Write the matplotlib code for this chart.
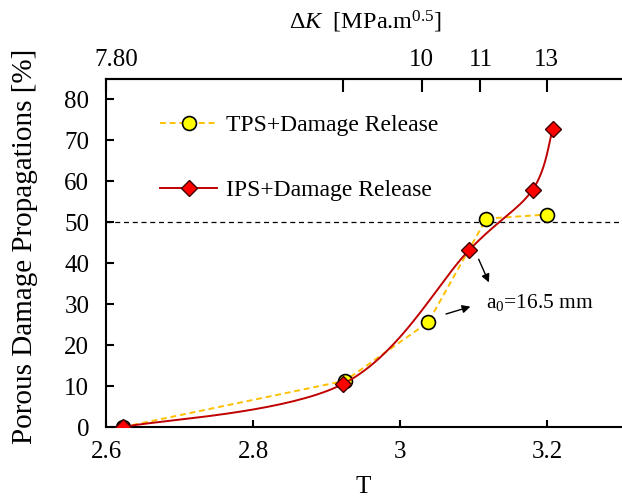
import numpy as np
import matplotlib
matplotlib.use("Agg")
import matplotlib.pyplot as plt
import matplotlib.transforms as mtransforms

plt.rcParams['font.family'] = ['Liberation Serif', 'DejaVu Serif']
plt.rcParams['mathtext.fontset'] = 'custom'
plt.rcParams['mathtext.rm'] = 'Liberation Serif'
plt.rcParams['mathtext.it'] = 'Liberation Serif:italic'

# data
tps_x = [2.623, 2.925, 3.038, 3.117, 3.200]
tps_y = [0.0, 11.3, 25.6, 50.9, 51.9]
ips_x = [2.623, 2.922, 3.094, 3.180, 3.207]
ips_y = [0.0, 10.5, 43.3, 58.0, 72.7]
threshold = 50

x_ticks = [2.6, 2.8, 3.0, 3.2]
x_labels = ['2.6', '2.8', '3', '3.2']
y_ticks = [0, 10, 20, 30, 40, 50, 60, 70, 80]
dk_ticks = [2.6, 2.922, 3.029, 3.109, 3.199]
dk_labels = ['7.80', '', '10', '11', '13']

W, H = 622, 498


def smooth_line(ax, xs, ys, n=40):
    # Excel-like smoothed line (Catmull-Rom / Bezier) computed in display space
    pts = ax.transData.transform(np.column_stack([xs, ys]))
    pts = np.vstack([pts[0], pts, pts[-1]])
    out = []
    t = np.linspace(0, 1, n)[:, None]
    for i in range(1, len(pts) - 2):
        p0, p1, p2, p3 = pts[i - 1], pts[i], pts[i + 1], pts[i + 2]
        c1 = p1 + (p2 - p0) / 6
        c2 = p2 - (p3 - p1) / 6
        seg = ((1 - t) ** 3 * p1 + 3 * (1 - t) ** 2 * t * c1
               + 3 * (1 - t) * t ** 2 * c2 + t ** 3 * p2)
        out.append(seg)
    out = np.vstack(out)
    return ax.transData.inverted().transform(out)


fig = plt.figure(figsize=(W / 100, H / 100), dpi=100)
ax = fig.add_axes([106 / W, (H - 427) / H, 515 / W, 348 / H])
ax.set_xlim(2.6, 3.3)
ax.set_ylim(0, 85)

ax.axhline(threshold, color='black', lw=0.9, ls=(0, (4, 3)), zorder=1)

ax.plot(tps_x, tps_y, ls=(0, (3, 2)), color='#FFC000', lw=1.4,
        marker='o', ms=10, mfc='#FFFF00', mec='black', mew=1.2,
        label='TPS+Damage Release', zorder=2)

curve = smooth_line(ax, ips_x, ips_y)
ax.plot(curve[:, 0], curve[:, 1], color='#C00000', lw=1.4, zorder=3)
ax.plot(ips_x, ips_y, ls='none', marker='D', ms=8, mfc='#FF0000',
        mec='#400000', mew=1.0, zorder=4)
# legend proxy
ax.plot([], [], color='#C00000', lw=1.4, marker='D', ms=8, mfc='#FF0000',
        mec='#400000', mew=1.0, label='IPS+Damage Release')

ax.set_xticks(x_ticks)
ax.set_xticklabels(x_labels)
ax.set_yticks(y_ticks)
ax.tick_params(axis='x', direction='in', length=5, width=1.5, labelsize=18, pad=10)
ax.tick_params(axis='y', direction='in', length=6, width=1.5, labelsize=18, pad=12)
for s in ['left', 'bottom', 'top']:
    ax.spines[s].set_linewidth(1.5)
ax.spines['right'].set_visible(False)

fig.text(363 / W, 0.5 / H, 'T', fontsize=18, ha='center', va='bottom')
fig.text(25 / W, (H - 246) / H, 'Porous Damage Propagations [%]', fontsize=21,
         rotation=90, ha='center', va='center')

top = ax.secondary_xaxis('top')
top.set_xticks(dk_ticks)
top.set_xticklabels(dk_labels)
top.tick_params(direction='in', length=9.5, width=1.5, labelsize=18, pad=5.5)
top.spines['top'].set_linewidth(1.5)
lbl = top.get_xticklabels()[0]
lbl.set_transform(lbl.get_transform() + mtransforms.ScaledTranslation(0.105, 0, fig.dpi_scale_trans))
fig.text(365 / W, (H - 29) / H, r'$\Delta$$K$  [MPa.m$^{0.5}$]', fontsize=17.5,
         ha='center', va='baseline')

ax.legend(loc='upper left', bbox_to_anchor=(0.0866, 0.925), frameon=False,
          fontsize=17, handlelength=2.42, labelspacing=1.83, handletextpad=0.38,
          borderaxespad=0)

ax.annotate('', xy=(3.122, 34.7), xytext=(3.105, 41.6),
            arrowprops=dict(arrowstyle='-|>', color='black', lw=1.0, mutation_scale=12))
ax.annotate('', xy=(3.099, 29.6), xytext=(3.0585, 27.4),
            arrowprops=dict(arrowstyle='-|>', color='black', lw=1.0, mutation_scale=12))
ax.text(3.117, 30.3, r'a$_{0}$=16.5 mm', fontsize=15.5, va='center', ha='left')

fig.savefig('out.png', dpi=100)
